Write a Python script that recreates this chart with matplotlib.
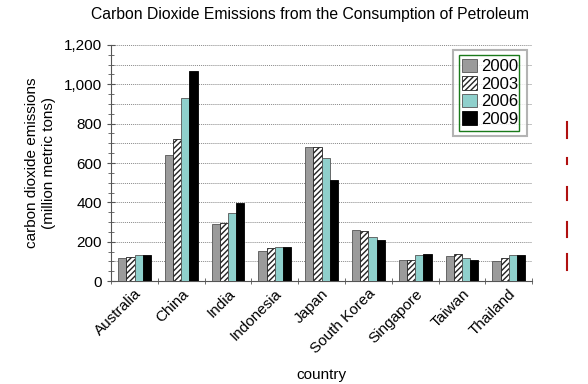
import numpy as np
import matplotlib
matplotlib.use('Agg')
import matplotlib.pyplot as plt
from matplotlib.ticker import MultipleLocator, FuncFormatter
from matplotlib.lines import Line2D
from matplotlib.patches import Rectangle

plt.rcParams['font.family'] = ['Liberation Sans', 'DejaVu Sans']

countries = ['Australia', 'China', 'India', 'Indonesia', 'Japan',
             'South Korea', 'Singapore', 'Taiwan', 'Thailand']
years = ['2000', '2003', '2006', '2009']
e2000 = [117, 642, 289, 153, 679, 258, 105, 127, 100]
e2003 = [120, 723, 297, 170, 679, 257, 105, 139, 119]
e2006 = [133, 929, 348, 175, 625, 224, 132, 119, 132]
e2009 = [133, 1066, 396, 175, 516, 211, 139, 109, 132]

fig = plt.figure(figsize=(5.88, 3.84), dpi=100)
ax = fig.add_axes([0.189, 0.268, 0.716, 0.615])

x = np.arange(len(countries))
w = 0.175
styles = [
    dict(color='#9b9b9b', edgecolor='#555555'),
    dict(color='white', edgecolor='#222222', hatch='//////'),
    dict(color='#8fd0cc', edgecolor='#555555'),
    dict(color='black', edgecolor='black'),
]
for i, (vals, st) in enumerate(zip([e2000, e2003, e2006, e2009], styles)):
    ax.bar(x + (i - 1.5) * w, vals, w, label=years[i], linewidth=0.6, zorder=3, **st)

ax.set_xlim(-0.5, len(countries) - 0.5)
ax.set_ylim(0, 1200)
ax.yaxis.set_major_locator(MultipleLocator(200))
ax.yaxis.set_minor_locator(MultipleLocator(50))
ax.yaxis.set_major_formatter(FuncFormatter(lambda v, p: f'{int(v):,}'))
for yv in range(100, 1300, 100):
    ax.axhline(yv, color='#888888', linestyle=(0, (1, 1)), linewidth=0.7, zorder=0)

ax.set_xticks(x)
ax.set_xticklabels(countries, rotation=45, ha='right', rotation_mode='anchor', fontsize=11)
ax.set_xticks(np.arange(len(countries) + 1) - 0.5, minor=True)
ax.tick_params(axis='x', which='major', length=0, pad=4)
ax.tick_params(axis='x', which='minor', length=5, direction='inout', color='#555555')
ax.tick_params(axis='y', which='major', length=6, direction='inout', color='#555555', labelsize=11)
ax.tick_params(axis='y', which='minor', length=4, direction='inout', color='#555555')

for s in ['top', 'right']:
    ax.spines[s].set_visible(False)
ax.spines['left'].set_color('#555555')
ax.spines['bottom'].set_color('#555555')

ax.set_ylabel('carbon dioxide emissions\n(million metric tons)', fontsize=11, labelpad=6)
ax.set_xlabel('country', fontsize=11, labelpad=8)
fig.text(0.527, 0.961, 'Carbon Dioxide Emissions from the Consumption of Petroleum',
         ha='center', va='center', fontsize=11.3)

leg = ax.legend(loc='upper right', bbox_to_anchor=(0.988, 0.979), fontsize=12,
                fancybox=False, handlelength=0.85, handleheight=0.85,
                handletextpad=0.25, borderpad=0.55, labelspacing=0.12, borderaxespad=0)
leg.get_frame().set_edgecolor('#a0a0a0')
leg.get_frame().set_linewidth(1.5)

# inner green border, inset inside the legend frame
fig.canvas.draw()
bb = leg.get_window_extent().transformed(fig.transFigure.inverted())
ix, iy = 6 / 588, 5 / 384
fig.add_artist(Rectangle((bb.x0 + ix, bb.y0 + iy), bb.width - 2 * ix - 2 / 588,
                         bb.height - 2 * iy, transform=fig.transFigure,
                         fill=False, edgecolor='#1a7a1a', linewidth=1.0, zorder=10))

# small red marks at the right edge
for y0, y1 in [(0.682, 0.641), (0.589, 0.573), (0.513, 0.479), (0.422, 0.383), (0.339, 0.297)]:
    fig.add_artist(Line2D([0.965, 0.965], [y0, y1], color='#b01010', linewidth=1.5))

fig.savefig('out.png', dpi=100)
